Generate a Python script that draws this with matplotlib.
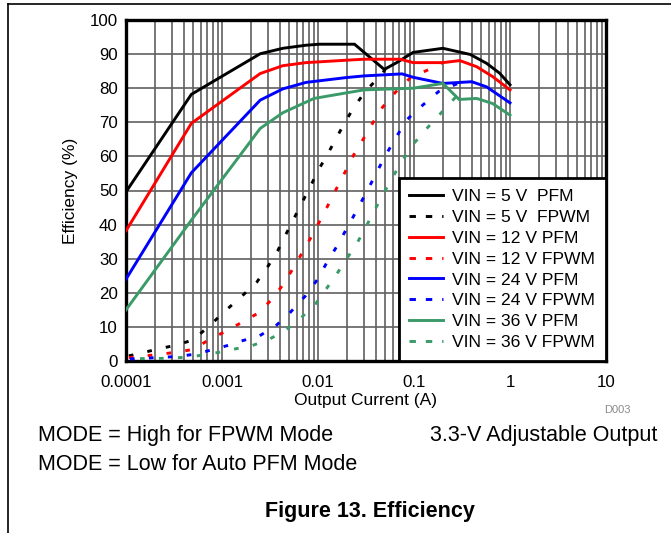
import matplotlib
matplotlib.use("Agg")
import matplotlib.pyplot as plt
from matplotlib.lines import Line2D
from matplotlib.legend_handler import HandlerLine2D
from matplotlib.ticker import LogLocator, FixedLocator, NullFormatter, FixedFormatter

plt.rcParams['font.family'] = ['Liberation Sans', 'DejaVu Sans']

# ---- data ----
i_5_pfm = [1e-4, 4.8e-4, 2.5e-3, 4.3e-3, 7.5e-3, 0.0103, 0.024, 0.049, 0.066, 0.098, 0.2, 0.385, 0.57, 0.78, 1.0]
e_5_pfm = [49.6, 78.2, 90.1, 91.7, 92.6, 92.9, 92.9, 85.5, 87.5, 90.5, 91.7, 89.9, 87.3, 84.4, 81.0]

i_5_fpwm = [1.07e-4, 1.58e-4, 2.3e-4, 3.4e-4, 5.0e-4, 7.4e-4, 1.07e-3, 1.58e-3, 2.3e-3, 3.0e-3, 3.8e-3,
            4.6e-3, 5.6e-3, 6.8e-3, 8.3e-3, 0.01, 0.0125, 0.0154, 0.019, 0.0239, 0.0316, 0.046, 0.05]
e_5_fpwm = [1.5, 2.6, 3.7, 4.7, 6.2, 10.3, 14.6, 18.8, 23.1, 27.7, 32.3,
            37.0, 41.7, 46.4, 51.1, 55.8, 60.5, 65.2, 69.9, 74.6, 79.3, 84.0, 85.5]

i_12_pfm = [1e-4, 4.8e-4, 2.5e-3, 4.3e-3, 7.5e-3, 0.0195, 0.03, 0.072, 0.098, 0.2, 0.3, 0.45, 0.66, 1.0]
e_12_pfm = [38.2, 69.7, 84.3, 86.6, 87.5, 88.2, 88.5, 88.5, 87.5, 87.5, 88.1, 86.3, 83.4, 79.5]

i_12_fpwm = [1.07e-4, 1.58e-4, 2.3e-4, 3.4e-4, 5e-4, 7.3e-4, 1.07e-3, 1.58e-3, 2.3e-3, 3.3e-3, 4.4e-3,
             5.6e-3, 7.0e-3, 8.7e-3, 0.0107, 0.013, 0.0158, 0.0193, 0.0234, 0.0295, 0.037, 0.047,
             0.065, 0.092, 0.138, 0.2]
e_12_fpwm = [1.0, 1.5, 2.0, 2.6, 3.4, 6.2, 8.6, 11.2, 13.8, 18.0, 22.7,
             27.5, 32.2, 36.9, 41.6, 46.2, 50.9, 55.6, 60.3, 65.0, 69.7, 74.4,
             79.0, 83.1, 85.3, 87.5]

i_24_pfm = [1e-4, 4.8e-4, 2.5e-3, 4.3e-3, 7.5e-3, 0.0195, 0.03, 0.075, 0.098, 0.2, 0.4, 0.57, 1.0]
e_24_pfm = [24.0, 55.2, 76.5, 79.8, 81.7, 83.1, 83.6, 84.2, 83.2, 81.4, 81.9, 80.4, 75.7]

i_24_fpwm = [1.1e-4, 1.6e-4, 2.35e-4, 3.45e-4, 5.2e-4, 7.7e-4, 1.13e-3, 1.65e-3, 2.4e-3, 3.6e-3,
             5.2e-3, 7.4e-3, 9.8e-3, 0.0121, 0.0153, 0.019, 0.0235, 0.0289, 0.0354, 0.0431,
             0.053, 0.0664, 0.0838, 0.124, 0.18, 0.27, 0.35]
e_24_fpwm = [0.6, 0.8, 1.1, 1.3, 2.0, 3.2, 4.5, 6.0, 7.2, 10.2,
             14.4, 19.1, 23.8, 28.4, 33.1, 37.8, 42.5, 47.2, 51.9, 56.6,
             61.3, 66.0, 70.7, 75.1, 79.0, 81.1, 82.0]

i_36_pfm = [1e-4, 5e-4, 2.5e-3, 4.3e-3, 9.1e-3, 0.0195, 0.03, 0.098, 0.2, 0.295, 0.45, 0.66, 1.0]
e_36_pfm = [15.0, 42.0, 68.2, 72.8, 77.0, 78.6, 79.5, 80.0, 81.4, 76.7, 77.0, 75.5, 72.1]

i_36_fpwm = [1.4e-4, 2.05e-4, 3e-4, 4.4e-4, 6.5e-4, 9.5e-4, 1.4e-3, 2.05e-3, 3.0e-3, 4.4e-3,
             6.4e-3, 9.4e-3, 0.0123, 0.0161, 0.0207, 0.0265, 0.0326, 0.0399, 0.049, 0.0607,
             0.0764, 0.0977, 0.136, 0.194, 0.28]
e_36_fpwm = [0.7, 0.7, 0.9, 1.1, 1.8, 2.6, 3.6, 4.5, 6.2, 8.6,
             12.2, 16.7, 21.3, 26.0, 30.7, 35.4, 40.1, 44.8, 49.5, 54.2,
             58.9, 63.5, 68.2, 72.9, 77.8]

x_ticks = [1e-4, 1e-3, 1e-2, 1e-1, 1, 10]
x_tick_labels = ["0.0001", "0.001", "0.01", "0.1", "1", "10"]
y_ticks = [0, 10, 20, 30, 40, 50, 60, 70, 80, 90, 100]

labels = ["VIN = 5 V  PFM", "VIN = 5 V  FPWM", "VIN = 12 V PFM", "VIN = 12 V FPWM",
          "VIN = 24 V PFM", "VIN = 24 V FPWM", "VIN = 36 V PFM", "VIN = 36 V FPWM"]

GREEN = '#3A9A68'
colors = ['#000000', '#000000', '#FF0000', '#FF0000', '#0000FF', '#0000FF', GREEN, GREEN]

# ---- figure ----
W, H = 671, 533
fig = plt.figure(figsize=(W / 100, H / 100), dpi=100)
ax = fig.add_axes([126 / W, 1 - 361 / H, 480 / W, 341 / H])

series = [(i_5_pfm, e_5_pfm), (i_5_fpwm, e_5_fpwm), (i_12_pfm, e_12_pfm), (i_12_fpwm, e_12_fpwm),
          (i_24_pfm, e_24_pfm), (i_24_fpwm, e_24_fpwm), (i_36_pfm, e_36_pfm), (i_36_fpwm, e_36_fpwm)]

dashed_lines = []
for k, ((xs, ys), c, lab) in enumerate(zip(series, colors, labels)):
    if k % 2 == 0:
        ax.plot(xs, ys, color=c, lw=2.1, label=lab, solid_joinstyle='miter', zorder=3)
    else:
        ln, = ax.plot(xs, ys, color=c, lw=2.1, label=lab, linestyle=(0, (1.6, 4.9)),
                      dash_capstyle='butt', zorder=3)
        dashed_lines.append(ln)

ax.set_xscale('log')
ax.set_xlim(1e-4, 10)
ax.set_ylim(0, 100)

ax.xaxis.set_major_locator(FixedLocator(x_ticks))
ax.xaxis.set_major_formatter(FixedFormatter(x_tick_labels))
ax.xaxis.set_minor_locator(LogLocator(base=10, subs=range(2, 10), numticks=50))
ax.xaxis.set_minor_formatter(NullFormatter())
ax.yaxis.set_major_locator(FixedLocator(y_ticks))

ax.grid(which='major', axis='both', color='#606060', lw=1.2, zorder=1)
ax.grid(which='minor', axis='x', color='#606060', lw=1.2, zorder=1)
ax.set_axisbelow(True)

ax.tick_params(which='both', length=0, labelsize=12.2, colors='black')
ax.tick_params(axis='x', pad=10)
ax.tick_params(axis='y', pad=6)

for s in ax.spines.values():
    s.set_linewidth(2.4)
    s.set_color('black')

ax.set_xlabel("Output Current (A)", fontsize=12.5, labelpad=2)
ax.set_ylabel("Efficiency (%)", fontsize=12.5, labelpad=8)


def _legend_dash(handle, orig):
    handle.update_from(orig)
    handle.set_linestyle((0, (2.2, 3.4)))


hmap = {ln: HandlerLine2D(update_func=_legend_dash) for ln in dashed_lines}
leg = ax.legend(loc='lower right', borderaxespad=0, fontsize=12.6, frameon=True,
                fancybox=False, framealpha=1, edgecolor='black', handlelength=1.9,
                handletextpad=0.55, labelspacing=0.32, borderpad=0.62, handler_map=hmap)
leg.get_frame().set_linewidth(2.0)
leg.set_zorder(5)

# ---- surrounding texts ----
fig.text(617 / W, 1 - 410 / H, "D003", fontsize=8, color='#8a8a8a', ha='center', va='center')
fig.text(38 / W, 1 - 436 / H, "MODE = High for FPWM Mode", fontsize=15.5, ha='left', va='center')
fig.text(657 / W, 1 - 436 / H, "3.3-V Adjustable Output", fontsize=15.5, ha='right', va='center')
fig.text(38 / W, 1 - 465 / H, "MODE = Low for Auto PFM Mode", fontsize=15.5, ha='left', va='center')
fig.text(370 / W, 1 - 511 / H, "Figure 13. Efficiency", fontsize=15.5, fontweight='bold',
         ha='center', va='center')

# frame lines
fig.add_artist(Line2D([8 / W, 1.0], [1 - 4 / H, 1 - 4 / H], color='black', lw=1.2))
fig.add_artist(Line2D([8 / W, 8 / W], [1 - 4 / H, 0.0], color='black', lw=1.2))

fig.savefig("out.png", dpi=100)
